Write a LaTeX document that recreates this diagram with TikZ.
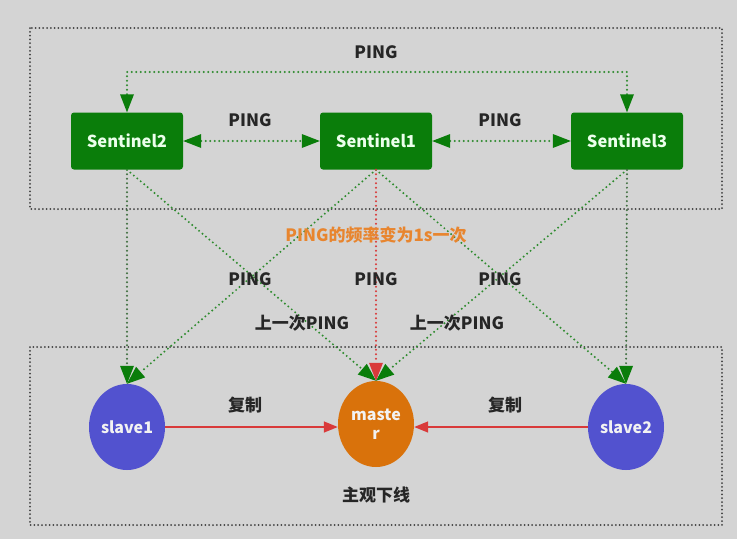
\documentclass[tikz,border=0pt]{standalone}
\usepackage{fontspec}
\setmainfont{Noto Sans CJK SC}
\usetikzlibrary{arrows.meta,shapes.geometric}
\definecolor{bg}{HTML}{D4D4D4}
\definecolor{sgreen}{HTML}{0A7D0A}
\definecolor{lgreen}{HTML}{2E8B2E}
\definecolor{vgreen}{HTML}{3F6F3F}
\definecolor{slavec}{HTML}{5252CF}
\definecolor{masterc}{HTML}{D9720B}
\definecolor{redc}{HTML}{D93A3A}
\definecolor{orangec}{HTML}{E8852E}
\definecolor{boxc}{HTML}{404040}
\tikzset{
  sentinel/.style={draw=none,fill=sgreen,rounded corners=3pt,minimum width=112pt,minimum height=57pt,text=white!92!green,font=\bfseries\fontsize{16.5}{18}\selectfont},
  redis/.style={ellipse,draw=none,inner sep=0pt,minimum width=76pt,minimum height=86pt,text=white!90!gray,font=\bfseries\fontsize{16}{19}\selectfont,align=center},
  lbl/.style={font=\bfseries\fontsize{17}{19}\selectfont,text=black!85},
  dots/.style={line width=2.2pt,dash pattern=on 0pt off 4.5pt,line cap=round},
  gtip/.tip={Triangle[length=18pt,width=14pt,color=sgreen,line width=0pt]},
  rtip/.tip={Triangle[length=18pt,width=14pt,color=redc,line width=0pt]},
  frame/.style={draw=boxc,line width=2pt,dash pattern=on 0pt off 3.8pt,line cap=round}
}
\begin{document}
\begin{tikzpicture}[x=1pt,y=-1pt]
\fill[bg] (0,0) rectangle (737,539);
\useasboundingbox (0,0) rectangle (737,539);
% frames
\draw[frame] (30,28) rectangle (722,209);
\draw[frame] (30,347) rectangle (722,525);
% nodes
\node[sentinel] (s2) at (127,141) {Sentinel2};
\node[sentinel] (s1) at (376,141) {Sentinel1};
\node[sentinel] (s3) at (627,141) {Sentinel3};
\node[redis,fill=slavec] (sl1) at (127,427) {slave1};
\node[redis,fill=masterc] (ms) at (376,424) {maste\\r};
\node[redis,fill=slavec] (sl2) at (626,427) {slave2};
\coordinate (tr) at (627,72);
% sentinel pings
\draw[dots,draw=lgreen,gtip-gtip] (s2.north) |- (tr) -- (s3.north);
\draw[dots,draw=lgreen,gtip-gtip] (s2.east) -- (s1.west);
\draw[dots,draw=lgreen,gtip-gtip] (s1.east) -- (s3.west);
% to redis
\draw[dots,draw=vgreen,-gtip] (s2.south) -- (sl1.north);
\draw[dots,draw=lgreen,-gtip] (s2.south) -- (ms.north);
\draw[dots,draw=lgreen,-gtip] (s1.south) -- (sl1.north);
\draw[dots,draw=lgreen,-gtip] (s1.south) -- (sl2.north);
\draw[dots,draw=redc,-rtip] (s1.south) -- (ms.north);
\draw[dots,draw=lgreen,-gtip] (s3.south) -- (ms.north);
\draw[dots,draw=vgreen,-gtip] (s3.south) -- (sl2.north);
% replication
\draw[redc,line width=1.4pt,-{Triangle[length=14pt,width=11pt]}] (sl1.east) -- (ms.west |- sl1.east);
\draw[redc,line width=1.4pt,-{Triangle[length=14pt,width=11pt]}] (sl2.west) -- (ms.east |- sl2.west);
% labels
\node[lbl] (l0) at (376,52) {PING};
\node[lbl] (l1) at (250,120) {PING};
\node[lbl] (l2) at (500,120) {PING};
\node[font=\bfseries\fontsize{17}{19}\selectfont,text=orangec] (l3) at (376,235) {PING的频率变为1s一次};
\node[lbl] (l4) at (250,279) {PING};
\node[lbl] (l5) at (376,279) {PING};
\node[lbl] (l6) at (500,279) {PING};
\node[lbl] (l7) at (302,323) {上一次PING};
\node[lbl] (l8) at (457,323) {上一次PING};
\node[lbl] (l9) at (245,405) {复制};
\node[lbl] (l10) at (505,405) {复制};
\node[lbl] (l11) at (376,495) {主观下线};
\end{tikzpicture}
\end{document}
